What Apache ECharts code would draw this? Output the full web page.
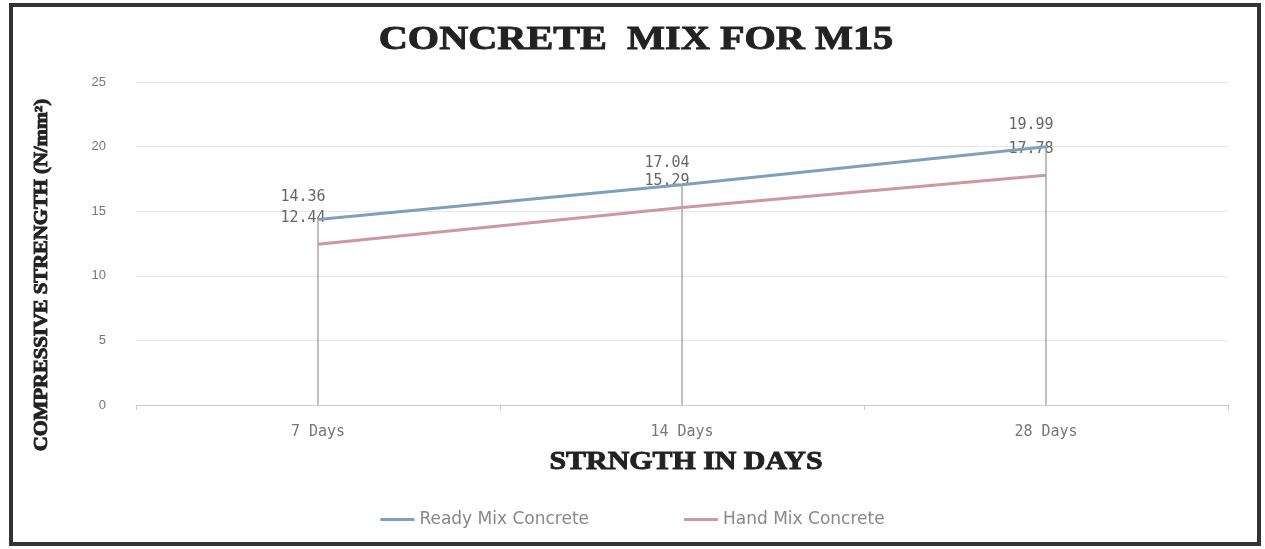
<!DOCTYPE html>
<html>
<head>
<meta charset="utf-8">
<script src="https://cdn.jsdelivr.net/npm/echarts@6/dist/echarts.min.js"></script>
<style>
html,body{margin:0;padding:0;background:#fff;}
#c{width:1265px;height:549px;}
</style>
</head>
<body>
<div id="c"></div>
<script>
const categories = ['7 Days', '14 Days', '28 Days'];
const readyMix = [14.36, 17.04, 19.99];
const handMix = [12.44, 15.29, 17.78];
const yTicks = [0, 5, 10, 15, 20, 25];
const titleText = 'CONCRETE  MIX FOR M15';
const xName = 'STRNGTH IN DAYS';
const yName = 'COMPRESSIVE STRENGTH (N/mm²)';

const chart = echarts.init(document.getElementById('c'));
const labelStyle = {show: true, color: '#666', fontSize: 15, fontFamily: 'DejaVu Sans Mono', offset: [-15, 0]};
const serifBold = {fontFamily: 'Liberation Serif', fontWeight: 'bold', fill: '#222', stroke: '#222', lineWidth: 0.9, align: 'center', verticalAlign: 'middle'};
chart.setOption({
  animation: false,
  backgroundColor: '#fff',
  graphic: [
    {
      type: 'rect', z: 100, silent: true,
      shape: {x: 11, y: 5, width: 1248, height: 539},
      style: {fill: 'none', stroke: '#333', lineWidth: 4}
    },
    {
      type: 'text', x: 636, y: 40, scaleX: 1.22, silent: true,
      style: Object.assign({text: titleText, fontSize: 33}, serifBold)
    },
    {
      type: 'text', x: 686, y: 462, scaleX: 1.15, silent: true,
      style: Object.assign({text: xName, fontSize: 26}, serifBold)
    },
    {
      type: 'text', x: 42, y: 275, rotation: Math.PI / 2, scaleX: 1.15, silent: true,
      style: Object.assign({text: yName, fontSize: 18}, serifBold)
    }
  ],
  legend: {
    bottom: 16, left: 'center', itemWidth: 34, itemHeight: 3, itemGap: 95,
    icon: 'rect',
    textStyle: {color: '#888', fontSize: 17, fontFamily: 'DejaVu Sans'},
    data: ['Ready Mix Concrete', 'Hand Mix Concrete']
  },
  grid: {left: 136, right: 37, top: 82, bottom: 144},
  xAxis: {
    type: 'category', data: categories, boundaryGap: true,
    axisLine: {lineStyle: {color: '#ccc'}},
    axisTick: {show: true, lineStyle: {color: '#ccc'}},
    axisLabel: {color: '#777', fontSize: 15, fontFamily: 'DejaVu Sans Mono', margin: 20}
  },
  yAxis: {
    type: 'value', min: yTicks[0], max: yTicks[yTicks.length - 1], interval: 5,
    axisLine: {show: false}, axisTick: {show: false},
    axisLabel: {color: '#777', fontSize: 13, margin: 30},
    splitLine: {lineStyle: {color: '#e6e6e6'}}
  },
  series: [
    {
      name: 'Ready Mix Concrete', type: 'line', data: readyMix,
      symbol: 'circle', symbolSize: 1, showSymbol: true,
      lineStyle: {width: 3, color: '#7f9fbb'}, itemStyle: {color: '#7f9fbb'},
      label: Object.assign({}, labelStyle, {position: 'top', distance: 14}),
      z: 3,
      markLine: {
        silent: true, symbol: 'none', label: {show: false},
        lineStyle: {color: '#aaa', width: 1.5, type: 'solid'},
        data: readyMix.map((v, i) => [{coord: [i, 0]}, {coord: [i, v]}])
      }
    },
    {
      name: 'Hand Mix Concrete', type: 'line', data: handMix,
      symbol: 'circle', symbolSize: 1, showSymbol: true,
      lineStyle: {width: 3, color: '#cf979e'}, itemStyle: {color: '#cf979e'},
      label: Object.assign({}, labelStyle, {position: 'top', distance: 18}),
      z: 2
    }
  ]
});
</script>
</body>
</html>
